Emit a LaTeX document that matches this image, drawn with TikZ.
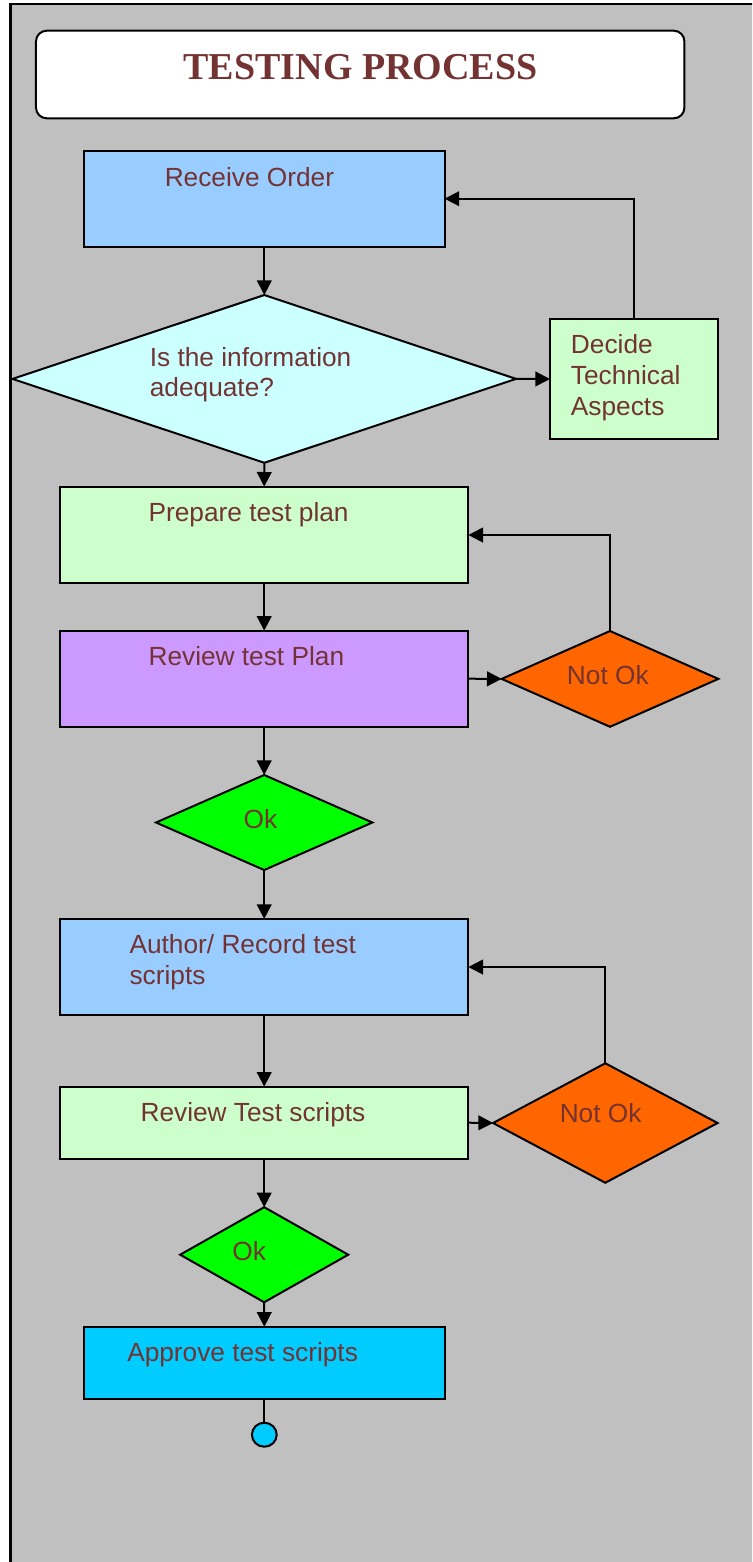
\documentclass[tikz,border=0pt]{standalone}
\usepackage{fontspec}
\setmainfont{Liberation Sans}
\newfontfamily\titlefont{Liberation Serif}
\usetikzlibrary{arrows.meta,shapes.geometric}
\definecolor{textbrown}{RGB}{115,51,51}
\definecolor{panelgray}{RGB}{192,192,192}
\definecolor{skyblue}{RGB}{153,204,255}
\definecolor{palecyan}{RGB}{204,255,255}
\definecolor{palegreen}{RGB}{204,255,204}
\definecolor{lilac}{RGB}{204,153,255}
\definecolor{notokorange}{RGB}{255,102,0}
\definecolor{okgreen}{RGB}{0,255,0}
\definecolor{approvecyan}{RGB}{0,204,255}
\tikzset{
  % outlined shapes
  box/.style={draw=black, line width=1.5bp, inner sep=0pt, outer sep=0pt},
  % process boxes
  proc/.style={box, rectangle},
  % decisions
  decision/.style={box, diamond},
  % box texts (multi-line: placed at the last baseline)
  lbl/.style={text=textbrown, font=\fontsize{19.7bp}{23bp}\selectfont,
    inner sep=0pt, align=left, anchor=base west},
  % arrows
  arr/.style={-{Triangle[length=11bp, width=11bp]}, line width=1.5bp},
}

\begin{document}
\begin{tikzpicture}[x={(0.75bp,0)}, y={(0,-0.75bp)},
    wide/.style={minimum width=306.2bp},
    narrow/.style={minimum width=270.4bp}
  ]
  \useasboundingbox (0,0) rectangle (752,1562);
  \clip (0,0) rectangle (752,1562);
  \fill[white] (0,0) rectangle (752,1562);
  % panel
  \draw[fill=panelgray, line width=1.7bp] (10.5,4) rectangle (800,1620);

  % title
  \node[box, rounded corners=8bp, fill=white, minimum width=486.3bp,
    minimum height=65.7bp] (head) at (360.2,74.5) {};
  \node[text=textbrown, inner sep=0pt, anchor=base,
    font=\titlefont\bfseries\fontsize{28.5bp}{32bp}\selectfont]
    (head-t) at (360.5,80) {TESTING PROCESS};

  % shapes
  \node[proc, narrow, fill=skyblue, minimum height=72bp] (recv) at (264.3,198.7) {};
  \node[decision, fill=palecyan, minimum width=377.7bp, minimum height=125.8bp] (info) at (264.3,378.9) {};
  \node[proc, fill=palegreen, minimum width=126bp, minimum height=90bp] (decide) at (634,379) {};
  \node[proc, wide, fill=palegreen, minimum height=72.5bp] (prep) at (264.2,535) {};
  \node[proc, wide, fill=lilac, minimum height=72bp] (revplan) at (264.2,678.7) {};
  \node[decision, fill=notokorange, minimum width=162.5bp, minimum height=71.8bp] (notok1) at (610,678.9) {};
  \node[decision, fill=okgreen, minimum width=162.2bp, minimum height=71.25bp] (ok1) at (264.2,822.5) {};
  \node[proc, wide, fill=skyblue, minimum height=72bp] (author) at (264.2,967) {};
  \node[proc, wide, fill=palegreen, minimum height=54bp] (revscr) at (264.2,1122.7) {};
  \node[decision, fill=notokorange, minimum width=168.4bp, minimum height=89.6bp] (notok2) at (605.3,1123) {};
  \node[decision, fill=okgreen, minimum width=126bp, minimum height=71.25bp] (ok2) at (264.2,1254.7) {};
  \node[proc, narrow, fill=approvecyan, minimum height=54.2bp] (approve) at (264.3,1362.9) {};
  \node[box, ellipse, fill=approvecyan, minimum width=18.6bp, minimum height=18bp] (stop) at (264.3,1434.7) {};

  % texts
  \node[lbl] (recv-t) at (164.5,186) {Receive Order};
  \node[lbl] (info-t) at (149.6,396.7) {Is the information\\adequate?};
  \node[lbl] (decide-t) at (570.7,415) {Decide\\Technical\\Aspects};
  \node[lbl] (prep-t) at (148.3,521.7) {Prepare test plan};
  \node[lbl] (revplan-t) at (148.3,665) {Review test Plan};
  \node[lbl] (notok1-t) at (566.7,684) {Not Ok};
  \node[lbl] (ok1-t) at (243.3,828.3) {Ok};
  \node[lbl] (author-t) at (129.3,984) {Author/ Record test\\scripts};
  \node[lbl] (revscr-t) at (140.3,1121) {Review Test scripts};
  \node[lbl] (notok2-t) at (559.5,1122.3) {Not Ok};
  \node[lbl] (ok2-t) at (232.2,1260.7) {Ok};
  \node[lbl] (approve-t) at (127,1361.7) {Approve test scripts};

  % connectors
  \draw[arr] (recv.south) -- (info.north);
  \draw[arr] (info.east) -- (decide.west);
  \draw[arr] (decide.north) |- (recv.east);
  \draw[arr] (info.south) -- (prep.north);
  \draw[arr] (prep.south) -- (revplan.north);
  \draw[arr] (revplan.east) -- (notok1.west);
  \draw[arr] (notok1.north) |- (prep.east);
  \draw[arr] (revplan.south) -- (ok1.north);
  \draw[arr] (ok1.south) -- (author.north);
  \draw[arr] (author.south) -- (revscr.north);
  \draw[arr] (revscr.east) -- (notok2.west);
  \draw[arr] (notok2.north) |- (author.east);
  \draw[arr] (revscr.south) -- (ok2.north);
  \draw[arr] (ok2.south) -- (approve.north);
  \draw[line width=1.5bp] (approve.south) -- (stop.north);
\end{tikzpicture}
\end{document}
